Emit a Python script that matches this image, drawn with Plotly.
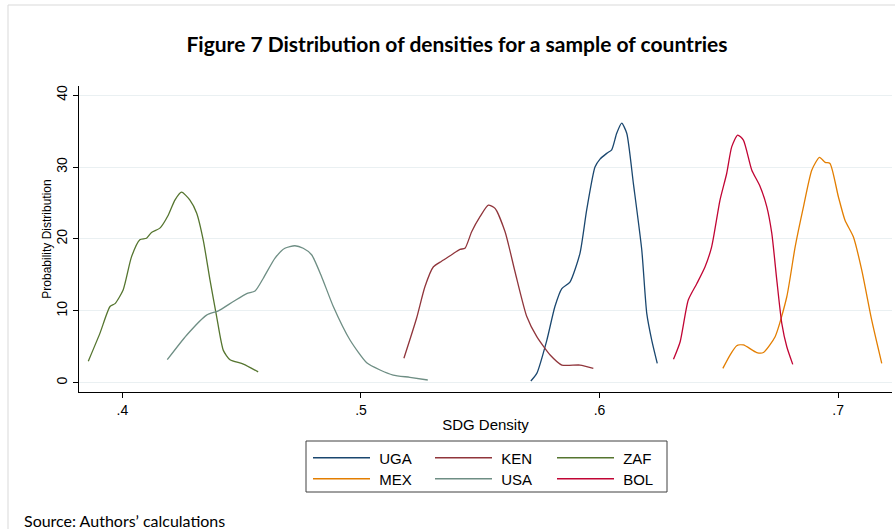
import plotly.graph_objects as go

# ---------------- data ----------------
countries = ["UGA", "KEN", "ZAF", "MEX", "USA", "BOL"]
colors = {"UGA": "#1a476f", "KEN": "#90353b", "ZAF": "#55752f",
          "MEX": "#e37e00", "USA": "#6e8e84", "BOL": "#c10534"}

uga_x = [0.5712, 0.5737, 0.5779, 0.5813, 0.5842, 0.5876, 0.5918, 0.5946, 0.5981, 0.6002,
         0.6030, 0.6051, 0.6072, 0.6093, 0.6114, 0.6142, 0.6177, 0.6198, 0.6219, 0.6242]
uga_y = [0.24, 1.3, 5.9, 10.6, 13.1, 14.0, 18.0, 24.0, 30.0, 31.1,
         31.9, 32.4, 34.7, 36.1, 34.7, 27.7, 18.5, 9.65, 5.9, 2.7]

ken_x = [0.5180, 0.5233, 0.5268, 0.5303, 0.5338, 0.5380, 0.5415, 0.5436, 0.5464, 0.5499,
         0.5534, 0.5562, 0.5604, 0.5646, 0.5695, 0.5737, 0.5793, 0.5842, 0.5918, 0.5974]
ken_y = [3.4, 8.96, 13.35, 16.1, 16.9, 17.8, 18.55, 18.7, 21.0, 23.1,
         24.7, 24.25, 21.0, 15.4, 9.2, 6.4, 3.85, 2.46, 2.46, 2.0]

zaf_x = [0.3857, 0.3906, 0.3948, 0.3969, 0.4003, 0.4038, 0.4073, 0.4101, 0.4122, 0.4157,
         0.4192, 0.4220, 0.4248, 0.4283, 0.4311, 0.4339, 0.4367, 0.4395, 0.4423, 0.4451,
         0.4507, 0.4569]
zaf_y = [3.0, 6.9, 10.6, 11.0, 12.9, 17.5, 19.9, 20.1, 20.9, 21.5,
         23.3, 25.4, 26.5, 25.4, 23.6, 19.8, 14.3, 9.2, 4.5, 3.2,
         2.6, 1.5]

mex_x = [0.6517, 0.6547, 0.6575, 0.6603, 0.6659, 0.6687, 0.6736, 0.6785, 0.6820, 0.6855,
         0.6890, 0.6922, 0.6946, 0.6966, 0.7001, 0.7029, 0.7064, 0.7099, 0.7141, 0.7183]
mex_y = [2.0, 3.85, 5.15, 5.25, 4.2, 4.2, 6.4, 11.96, 18.9, 24.5,
         29.6, 31.35, 30.65, 30.5, 25.9, 22.6, 20.3, 15.7, 8.7, 2.7]

usa_x = [0.4188, 0.4269, 0.4353, 0.4402, 0.4465, 0.4521, 0.4556, 0.4590, 0.4639, 0.4681,
         0.4723, 0.4758, 0.4793, 0.4835, 0.4884, 0.4954, 0.5024, 0.5080, 0.5135, 0.5205,
         0.5280]
usa_y = [3.2, 6.6, 9.4, 10.0, 11.3, 12.4, 12.75, 14.5, 17.3, 18.7,
         19.05, 18.7, 17.8, 14.75, 10.6, 5.94, 2.78, 1.77, 1.07, 0.75,
         0.38]

bol_x = [0.6310, 0.6338, 0.6372, 0.6408, 0.6442, 0.6470, 0.6505, 0.6533, 0.6554, 0.6579,
         0.6603, 0.6638, 0.6673, 0.6701, 0.6722, 0.6743, 0.6764, 0.6785, 0.6810]
bol_y = [3.25, 5.7, 11.5, 13.8, 16.1, 18.9, 25.4, 29.1, 32.8, 34.45,
         33.75, 29.6, 27.3, 24.5, 20.8, 14.3, 8.26, 5.0, 2.55]

series = {"UGA": (uga_x, uga_y), "KEN": (ken_x, ken_y), "ZAF": (zaf_x, zaf_y),
          "MEX": (mex_x, mex_y), "USA": (usa_x, usa_y), "BOL": (bol_x, bol_y)}

x_ticks = [0.4, 0.5, 0.6, 0.7]
x_ticklabels = [".4", ".5", ".6", ".7"]
y_ticks = [0, 10, 20, 30, 40]

title_text = "Figure 7 Distribution of densities for a sample of countries"
source_text = "Source: Authors’ calculations"

# ---------------- layout geometry (pixels) ----------------
W, H = 895, 529
L, R, T, B = 79, 3, 86, 137
pw, ph = W - L - R, H - T - B

def px2paper_x(px):
    return (px - L) / pw

def px2paper_y(py):
    return (H - B - py) / ph

fig = go.Figure()
for i, c in enumerate(countries):
    xs, ys = series[c]
    fig.add_trace(go.Scatter(
        x=xs, y=ys, mode="lines", name=" " + c,
        line=dict(color=colors[c], width=1.3, shape="spline", smoothing=0.6),
        legend="legend" if i < 3 else "legend2",
        hoverinfo="skip",
    ))

legend_common = dict(
    orientation="h", xanchor="left", yanchor="middle",
    font=dict(family="Liberation Sans, Arial, sans-serif", size=15, color="black"),
    bgcolor="rgba(0,0,0,0)", borderwidth=0, itemwidth=57,
    entrywidth=50, entrywidthmode="pixels", itemclick=False, itemdoubleclick=False,
)

fig.update_layout(
    width=W, height=H,
    margin=dict(l=L, r=R, t=T, b=B, pad=0),
    paper_bgcolor="white", plot_bgcolor="white",
    showlegend=True,
    title=dict(text=title_text, x=457 / W, xanchor="center", y=1 - 45 / H, yanchor="middle",
               font=dict(family="Lato, sans-serif", size=21,
                         color="black", weight="bold")),
    xaxis=dict(range=[0.3818, 0.7226], tickvals=x_ticks, ticktext=x_ticklabels,
               showgrid=False, zeroline=False, showline=True, linecolor="black", linewidth=1,
               ticks="outside", ticklen=5, tickcolor="black", tickwidth=1,
               tickfont=dict(family="Liberation Sans, Arial, sans-serif", size=14, color="black"),
               title=dict(text="SDG Density", standoff=2,
                          font=dict(family="Liberation Sans, Arial, sans-serif", size=15, color="black"))),
    yaxis=dict(range=[-1.29, 41.27], tickvals=y_ticks,
               showgrid=True, gridcolor="#eaf0f2", gridwidth=1,
               zeroline=False, showline=True, linecolor="black", linewidth=1,
               ticks="outside", ticklen=5, tickcolor="black", tickwidth=1, tickangle=-90,
               tickfont=dict(family="Liberation Sans, Arial, sans-serif", size=14, color="black"),
               title=dict(text="Probability Distribution", standoff=0,
                          font=dict(family="Liberation Sans, Arial, sans-serif", size=12, color="black"))),
    legend=dict(x=px2paper_x(308), y=px2paper_y(458), **legend_common),
    legend2=dict(x=px2paper_x(308), y=px2paper_y(479), **legend_common),
)

# legend box
fig.add_shape(type="rect", xref="paper", yref="paper",
              x0=px2paper_x(306), x1=px2paper_x(667), y0=px2paper_y(492), y1=px2paper_y(441),
              line=dict(color="#404040", width=1), fillcolor="rgba(0,0,0,0)", layer="below")

# outer frame (left and top edges)
fig.add_shape(type="line", xref="paper", yref="paper",
              x0=px2paper_x(8), x1=px2paper_x(8), y0=px2paper_y(H + 2), y1=px2paper_y(5),
              line=dict(color="#d9d9d9", width=1))
fig.add_shape(type="line", xref="paper", yref="paper",
              x0=px2paper_x(8), x1=px2paper_x(W + 2), y0=px2paper_y(5), y1=px2paper_y(5),
              line=dict(color="#d9d9d9", width=1))

# source note
fig.add_annotation(text=source_text, xref="paper", yref="paper",
                   x=px2paper_x(22), y=px2paper_y(520), xanchor="left", yanchor="middle",
                   showarrow=False,
                   font=dict(family="Lato, sans-serif", size=16, color="black"))

fig.write_html("out.html", config={"displayModeBar": False},
               post_script="document.body.style.margin='0';")
